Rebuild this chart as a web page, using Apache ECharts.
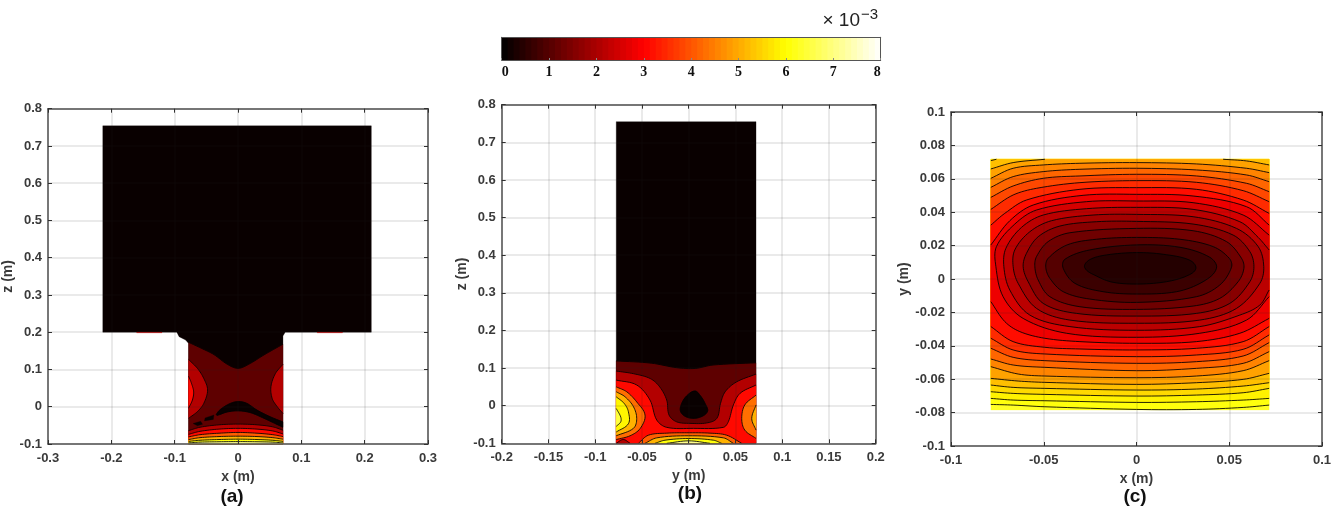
<!DOCTYPE html>
<html><head><meta charset="utf-8">
<style>html,body{margin:0;padding:0;background:#fff}#chart{width:1340px;height:521px;filter:blur(0.35px)}</style>
<script src="https://cdn.jsdelivr.net/npm/echarts@6/dist/echarts.min.js"></script>
</head><body><div id="chart"></div>
<script>
// ---------- tick labels ----------
const aXTicks=['-0.3','-0.2','-0.1','0','0.1','0.2','0.3'];
const zTicks=['-0.1','0','0.1','0.2','0.3','0.4','0.5','0.6','0.7','0.8'];
const bXTicks=['-0.2','-0.15','-0.1','-0.05','0','0.05','0.1','0.15','0.2'];
const cXTicks=['-0.1','-0.05','0','0.05','0.1'];
const cYTicks=['-0.1','-0.08','-0.06','-0.04','-0.02','0','0.02','0.04','0.06','0.08','0.1'];
const barTicks=['0','1','2','3','4','5','6','7','8'];
// colour bar cell centres (x 1e-3)
const barLevels=[0.0625,0.1875,0.3125,0.4375,0.5625,0.6875,0.8125,0.9375,1.0625,1.1875,1.3125,1.4375,1.5625,1.6875,1.8125,1.9375,2.0625,2.1875,2.3125,2.4375,2.5625,2.6875,2.8125,2.9375,3.0625,3.1875,3.3125,3.4375,3.5625,3.6875,3.8125,3.9375,4.0625,4.1875,4.3125,4.4375,4.5625,4.6875,4.8125,4.9375,5.0625,5.1875,5.3125,5.4375,5.5625,5.6875,5.8125,5.9375,6.0625,6.1875,6.3125,6.4375,6.5625,6.6875,6.8125,6.9375,7.0625,7.1875,7.3125,7.4375,7.5625,7.6875,7.8125,7.9375];

// ---------- panel (a): x-z plane ----------
const aBlock=[[-0.2135,0.754],[0.2105,0.754],[0.2105,0.2],[0.0745,0.2],[0.071,0.19],[0.071,-0.1],[-0.078,-0.1],[-0.078,0.17],[-0.0827,0.179],[-0.093,0.188],[-0.0966,0.2],[-0.2135,0.2]];
const aSlivL=[[-0.16,0.2],[-0.12,0.2],[-0.12,0.1985],[-0.16,0.1985]];
const aSlivR=[[0.125,0.2],[0.165,0.2],[0.165,0.1985],[0.125,0.1985]];
const aBand1=[[-0.078,0.173],[-0.058,0.157],[-0.038,0.14],[-0.017,0.114],[0,0.103],[0.017,0.114],[0.041,0.139],[0.071,0.168],[0.071,-0.1],[-0.078,-0.1]];
const aLobeL2=[[-0.078,0.127],[-0.064,0.103],[-0.054,0.076],[-0.048,0.045],[-0.054,0.009],[-0.064,-0.013],[-0.078,-0.031]];
const aLobeR2=[[0.071,0.114],[0.059,0.089],[0.052,0.054],[0.054,0.022],[0.062,0],[0.071,-0.018]];
const aLobeL3=[[-0.078,0.082],[-0.0735,0.063],[-0.07,0.04],[-0.072,0.018],[-0.078,-0.004]];
const aBlob=[[-0.034,-0.02],[-0.0276,-0.007],[-0.012,0.009],[0.001,0.014],[0.014,0.009],[0.03,-0.009],[0.051,-0.027],[0.071,-0.041],[0.071,-0.055],[0.056,-0.043],[0.041,-0.031],[0.02,-0.016],[0.001,-0.011],[-0.017,-0.014],[-0.033,-0.023]];
const aSpeck1=[[-0.052,-0.03],[-0.038,-0.022],[-0.039,-0.034],[-0.053,-0.038]];
const aSpeck2=[[-0.071,-0.045],[-0.059,-0.039],[-0.056,-0.047],[-0.064,-0.051]];
const aArc1=[[-0.078,-0.064],[-0.06,-0.055],[-0.03,-0.0485],[0,-0.0465],[0.03,-0.0485],[0.055,-0.054],[0.071,-0.063],[0.071,-0.1],[-0.078,-0.1]];
const aArc2=[[-0.078,-0.074],[-0.06,-0.066],[-0.03,-0.06],[0,-0.058],[0.03,-0.06],[0.055,-0.065],[0.071,-0.073],[0.071,-0.1],[-0.078,-0.1]];
const aArc3=[[-0.078,-0.081],[-0.06,-0.075],[-0.03,-0.071],[0,-0.069],[0.03,-0.071],[0.055,-0.075],[0.071,-0.08],[0.071,-0.1],[-0.078,-0.1]];
const aArc4=[[-0.078,-0.088],[-0.06,-0.083],[-0.03,-0.08],[0,-0.079],[0.03,-0.08],[0.055,-0.083],[0.071,-0.087],[0.071,-0.1],[-0.078,-0.1]];
const aArc5=[[-0.078,-0.093],[-0.06,-0.09],[-0.03,-0.088],[0,-0.087],[0.03,-0.088],[0.055,-0.09],[0.071,-0.093],[0.071,-0.1],[-0.078,-0.1]];
const aArc6=[[-0.078,-0.097],[-0.06,-0.095],[-0.03,-0.094],[0,-0.0935],[0.03,-0.094],[0.055,-0.095],[0.071,-0.097],[0.071,-0.1],[-0.078,-0.1]];
// [contour, level x1e-3, outlined]
const aLayers=[[aBlock,0.1,0],[aSlivL,2.3,0],[aSlivR,2.3,0],[aBand1,1.1,1],[aLobeL2,2.1,1],[aLobeR2,2.1,1],[aLobeL3,3.1,1],[aBlob,0.1,1],[aSpeck1,0.1,0],[aSpeck2,0.1,0],[aArc1,2.1,1],[aArc2,3.1,1],[aArc3,4.1,1],[aArc4,5.1,1],[aArc5,6.1,1],[aArc6,7.1,1]];
const aEdgesX=[-0.078,0.071], aEdgesY=[-0.1];

// ---------- panel (b): y-z plane ----------
const bBlock=[[-0.0775,0.755],[0.072,0.755],[0.072,-0.1],[-0.0775,-0.1]];
const bBand1=[[-0.0775,0.119],[-0.04,0.113],[-0.013,0.101],[0.007,0.099],[0.026,0.108],[0.072,0.114],[0.072,-0.1],[-0.0775,-0.1]];
const bBand2=[[-0.0775,0.092],[-0.059,0.085],[-0.041,0.072],[-0.031,0.05],[-0.0235,0.015],[-0.021,-0.025],[-0.0128,-0.043],[0.0014,-0.047],[0.019,-0.046],[0.03,-0.034],[0.034,0.006],[0.039,0.037],[0.051,0.063],[0.072,0.084],[0.072,-0.1],[-0.0775,-0.1]];
const bBand3=[[-0.0775,0.068],[-0.0556,0.055],[-0.0414,0.015],[-0.0342,-0.038],[-0.0235,-0.0576],[0.005,-0.0603],[0.037,-0.0576],[0.0424,-0.0426],[0.0478,0.002],[0.055,0.033],[0.072,0.055],[0.072,-0.1],[-0.0775,-0.1]];
const bBlob=[[0.0068,0.039],[-0.0014,0.028],[-0.0075,0.006],[-0.0086,-0.016],[-0.0014,-0.031],[0.0103,-0.032],[0.02,-0.016],[0.0175,0.006],[0.012,0.028]];
const bLeftA=[[-0.0775,0.05],[-0.0663,0.037],[-0.0556,0.01],[-0.0467,-0.025],[-0.052,-0.061],[-0.0627,-0.08],[-0.0775,-0.09]];
const bLeftB=[[-0.0775,0.037],[-0.068,0.0235],[-0.059,-0.003],[-0.0556,-0.034],[-0.059,-0.06],[-0.0775,-0.08]];
const bLeftC=[[-0.0775,0.0235],[-0.069,0.006],[-0.0645,-0.016],[-0.0645,-0.048],[-0.0775,-0.07]];
const bLeftD=[[-0.0775,-0.0075],[-0.0727,-0.03],[-0.0727,-0.043],[-0.0775,-0.055]];
const bRightB=[[0.072,0.028],[0.06,0.002],[0.0567,-0.034],[0.06,-0.065],[0.072,-0.087]];
const bRightC=[[0.072,0.002],[0.0674,-0.034],[0.072,-0.065]];
const bPatch=[[-0.0775,-0.1],[-0.07,-0.09],[-0.0627,-0.1]];
const bArc1=[[-0.0538,-0.1],[-0.0431,-0.0784],[-0.0235,-0.073],[-0.002,-0.072],[0.0228,-0.073],[0.0406,-0.0784],[0.0567,-0.1]];
const bArc2=[[-0.0467,-0.1],[-0.0342,-0.0855],[-0.0004,-0.08],[0.0371,-0.0855],[0.0478,-0.1]];
const bArc3=[[-0.036,-0.1],[-0.0253,-0.0917],[0,-0.0873],[0.0264,-0.0917],[0.0353,-0.1]];
const bArc4=[[-0.0235,-0.1],[0,-0.0935],[0.0228,-0.1]];
const bLayers=[[bBlock,0.1,0],[bBand1,1.1,1],[bBand2,2.1,1],[bBand3,3.1,1],[bBlob,0.1,1],[bLeftA,4.3,1],[bLeftB,5.1,1],[bLeftC,5.9,1],[bLeftD,6.5,1],[bRightB,4.3,1],[bRightC,5.1,1],[bPatch,2.1,1],[bArc1,4.1,1],[bArc2,5.1,1],[bArc3,6.1,1],[bArc4,7.1,1]];
const bEdgesX=[-0.0775,0.072], bEdgesY=[-0.1];

// ---------- panel (c): x-y plane ----------
const cRect=[[-0.0785,0.0717],[0.0715,0.0717],[0.0715,-0.0784],[-0.0785,-0.0784]];
const cC1=[[-0.0279,0.0068],[-0.0255,0.0114],[-0.0162,0.0144],[0,0.0158],[0.0144,0.0148],[0.0284,0.0114],[0.032,0.0064],[0.027,0.0018],[0.0162,-0.0016],[0.0018,-0.003],[-0.0126,-0.002],[-0.0216,0.0018]];
const cC2=[[-0.0395,0.0064],[-0.0386,0.0118],[-0.0252,0.0174],[0,0.0204],[0.0234,0.019],[0.0395,0.013],[0.0431,0.0064],[0.0359,-0.0016],[0.0216,-0.0076],[0,-0.009],[-0.018,-0.0076],[-0.0332,-0.0026]];
const cC3=[[-0.0489,0.007],[-0.0476,0.0124],[-0.0374,0.0204],[-0.0216,0.0238],[0,0.0249],[0.0234,0.0238],[0.0413,0.0194],[0.05,0.0124],[0.0512,0.007],[0.0449,-0.0036],[0.0323,-0.0106],[0,-0.014],[-0.0252,-0.012],[-0.0395,-0.0076],[-0.0467,0.0004]];
const cC4=[[-0.0548,0.0074],[-0.0539,0.0134],[-0.0476,0.0224],[-0.0359,0.0277],[0,0.0303],[0.0305,0.0289],[0.0485,0.0224],[0.0566,0.0124],[0.0579,0.0064],[0.0548,-0.0016],[0.0449,-0.0116],[0.0305,-0.0162],[0,-0.0182],[-0.0305,-0.0166],[-0.0467,-0.0106],[-0.053,-0.0006]];
const cC5=[[-0.0611,0.0074],[-0.0593,0.0154],[-0.053,0.0253],[-0.0413,0.0317],[-0.0216,0.0343],[0,0.0345],[0.0305,0.0329],[0.0521,0.0263],[0.0611,0.0164],[0.0633,0.0074],[0.0611,-0.0016],[0.0503,-0.0146],[0.0323,-0.0206],[0,-0.0222],[-0.0323,-0.0206],[-0.0503,-0.0146],[-0.0584,-0.0016]];
const cC6=[[-0.0665,0.0074],[-0.0656,0.0174],[-0.0575,0.0283],[-0.0458,0.0349],[-0.0234,0.0383],[0,0.0387],[0.0305,0.0373],[0.0539,0.0303],[0.0656,0.0194],[0.0686,0.0074],[0.0665,-0.0026],[0.0539,-0.0176],[0.0341,-0.0246],[0,-0.0265],[-0.0359,-0.0246],[-0.0539,-0.0176],[-0.0638,-0.0026]];
const cC7=[[-0.0715,0.0074],[-0.0704,0.0184],[-0.062,0.0309],[-0.0503,0.0383],[-0.027,0.0421],[0,0.0429],[0.0305,0.0417],[0.0557,0.0343],[0.0656,0.0249],[0.0715,0.0174],[0.0715,-0.0066],[0.0665,-0.0156],[0.0557,-0.0216],[0.0341,-0.0285],[0,-0.0307],[-0.0359,-0.0285],[-0.0575,-0.0216],[-0.0683,-0.0066]];
const cC8=[[-0.0758,0.0074],[-0.0755,0.0194],[-0.0656,0.0329],[-0.0539,0.0413],[-0.027,0.0463],[0,0.0467],[0.0305,0.0457],[0.0575,0.0383],[0.0715,0.0263],[0.0715,-0.0106],[0.0593,-0.0246],[0.0341,-0.0325],[0,-0.0349],[-0.0377,-0.0325],[-0.0611,-0.0236],[-0.0719,-0.0106]];
const cC9=[[-0.0785,0.0204],[-0.0683,0.0349],[-0.0557,0.0443],[-0.0288,0.0501],[0,0.0507],[0.0305,0.0497],[0.0593,0.0433],[0.0715,0.0323],[0.0715,-0.0236],[0.0557,-0.0325],[0.0323,-0.0375],[0,-0.0385],[-0.0305,-0.0375],[-0.0494,-0.0355],[-0.0629,-0.0315],[-0.071,-0.0255],[-0.0785,-0.0136]];
const cC10=[[-0.0785,0.0323],[-0.071,0.0393],[-0.0593,0.0473],[-0.0305,0.0537],[0,0.0547],[0.0323,0.0537],[0.0575,0.0473],[0.0715,0.0393],[0.0715,-0.0285],[0.0575,-0.0375],[0.0323,-0.0415],[0,-0.0425],[-0.0305,-0.0419],[-0.0494,-0.0409],[-0.0665,-0.0375],[-0.0785,-0.0285]];
const cC11=[[-0.0785,0.0417],[-0.0665,0.0503],[-0.0539,0.0543],[-0.0305,0.0577],[0,0.0589],[0.0323,0.0579],[0.0575,0.0529],[0.0715,0.0463],[0.0715,-0.0335],[0.0575,-0.0421],[0.0323,-0.0455],[0,-0.0465],[-0.0494,-0.0449],[-0.0665,-0.0425],[-0.0785,-0.0355]];
const cC12=[[-0.0785,0.0489],[-0.0665,0.0557],[-0.0503,0.0603],[-0.0305,0.0617],[0,0.0627],[0.0323,0.0617],[0.0593,0.0573],[0.0715,0.0523],[0.0715,-0.0381],[0.0575,-0.0461],[0.0323,-0.0495],[0,-0.0505],[-0.0494,-0.0489],[-0.0665,-0.0469],[-0.0785,-0.0415]];
const cC13=[[-0.0785,0.0549],[-0.0665,0.0613],[-0.0503,0.0643],[-0.0305,0.0657],[0,0.0663],[0.0323,0.0653],[0.0593,0.0623],[0.0715,0.0583],[0.0715,-0.0435],[0.0575,-0.0505],[0.0323,-0.0535],[0,-0.0549],[-0.0494,-0.0529],[-0.0665,-0.0515],[-0.0785,-0.0479]];
const cC14=[[-0.0785,0.0603],[-0.0665,0.0663],[-0.0503,0.0683],[-0.0305,0.0693],[0,0.0697],[0.0323,0.0689],[0.0593,0.0663],[0.0715,0.0637],[0.0715,-0.0489],[0.0575,-0.0549],[0.0323,-0.0581],[0,-0.0591],[-0.0494,-0.0581],[-0.0638,-0.0569],[-0.0785,-0.0525]];
const cC15=[[-0.0785,0.0659],[-0.0665,0.0697],[-0.0494,0.0717],[0.0467,0.0717],[0.0593,0.0707],[0.0715,0.0683],[0.0715,-0.0565],[0.0575,-0.0601],[0.0323,-0.0621],[0,-0.0631],[-0.0494,-0.0619],[-0.0638,-0.0611],[-0.0785,-0.0595]];
const cC16=[[-0.0785,0.0709],[-0.0755,0.0717],[0.0715,0.0717],[0.0715,-0.0621],[0.0575,-0.0641],[0.0323,-0.0659],[0,-0.0665],[-0.0494,-0.0655],[-0.0665,-0.0649],[-0.0785,-0.0635]];
const cC17=[[-0.0785,0.0717],[0.0715,0.0717],[0.0715,-0.0655],[0.0575,-0.0681],[0.0323,-0.0695],[0,-0.0701],[-0.0494,-0.0691],[-0.0665,-0.0685],[-0.0785,-0.0675]];
const cC18=[[-0.0785,0.0717],[0.0715,0.0717],[0.0715,-0.0715],[0.0575,-0.0725],[0.0323,-0.0735],[0,-0.0739],[-0.0494,-0.0729],[-0.0665,-0.0725],[-0.0785,-0.0715]];
const cC19=[[-0.0785,0.0717],[0.0715,0.0717],[0.0715,-0.0755],[0.0575,-0.0769],[0.0323,-0.0781],[0,-0.0781],[-0.0494,-0.0765],[-0.0665,-0.0755],[-0.0785,-0.0751]];
const cLayers=[[cRect,6.3,0],[cC19,6.1,1],[cC18,5.85,1],[cC17,5.55,1],[cC16,5.25,1],[cC15,4.9,1],[cC14,4.55,1],[cC13,4.2,1],[cC12,3.85,1],[cC11,3.5,1],[cC10,3.15,1],[cC9,2.8,1],[cC8,2.5,1],[cC7,2.2,1],[cC6,1.9,1],[cC5,1.6,1],[cC4,1.3,1],[cC3,1.0,1],[cC2,0.7,1],[cC1,0.42,1]];
const cEdgesX=[-0.0785,0.0715], cEdgesY=[0.0717,-0.0784];

// ---------- rendering ----------
function hot(v){
  const c=t=>Math.round(255*Math.max(0,Math.min(1,t)));
  return 'rgb('+c(v/3)+','+c((v-3)/3)+','+c((v-6)/2)+')';
}
const near=(a,list)=>list.some(e=>Math.abs(a-e)<1e-6);
// rounded pen path through the read contour vertices, on screen
function curve(pts,closed){
  const n=pts.length;
  if(n<3)return pts.slice();
  const get=i=>closed?pts[(i+n)%n]:pts[Math.max(0,Math.min(n-1,i))];
  const dir=i=>{const a=get(i-1),b=get(i+1),dx=b[0]-a[0],dy=b[1]-a[1],l=Math.hypot(dx,dy)||1;return [dx/l,dy/l];};
  const out=[];
  const segs=closed?n:n-1;
  for(let i=0;i<segs;i++){
    const p0=get(i),p1=get(i+1),L=Math.hypot(p1[0]-p0[0],p1[1]-p0[1]);
    const d0=dir(i),d1=dir(i+1);
    for(let k=0;k<8;k++){
      const t=k/8,t2=t*t,t3=t2*t;
      const h00=2*t3-3*t2+1,h10=t3-2*t2+t,h01=-2*t3+3*t2,h11=t3-t2;
      out.push([h00*p0[0]+h10*L*d0[0]+h01*p1[0]+h11*L*d1[0],h00*p0[1]+h10*L*d0[1]+h01*p1[1]+h11*L*d1[1]]);
    }
  }
  if(!closed)out.push(pts[n-1]);
  return out;
}
function contourSeries(layers,edgesX,edgesY,idx){
  return {type:'custom',xAxisIndex:idx,yAxisIndex:idx,clip:false,animation:false,silent:true,z:2,
    data:layers.map(()=>[0,0]),
    renderItem(params,api){
      const layer=layers[params.dataIndex],pts=layer[0],n=pts.length;
      const px=pts.map(p=>api.coord(p));
      const base=params.dataIndex*2;
      const fill=hot(layer[1]);
      if(!layer[2]) return {type:'polygon',shape:{points:px},style:{fill,stroke:fill,lineWidth:0.3},z2:base};
      const isEdge=i=>{const a=pts[i],b=pts[(i+1)%n];return (a[0]===b[0]&&near(a[0],edgesX))||(a[1]===b[1]&&near(a[1],edgesY));};
      let first=-1;
      for(let i=0;i<n;i++) if(isEdge(i)){first=i;break;}
      const lines=[];let outline=[];
      if(first<0){
        const c=curve(px,true);
        outline=c;lines.push(c.concat([c[0]]));
      }else{
        let run=[];
        const flush=()=>{if(run.length>1){const c=curve(run,false);lines.push(c);outline=outline.concat(c);}else if(run.length===1){outline.push(run[0]);}run=[];};
        for(let s=1;s<=n;s++){
          const i=(first+s)%n;
          if(isEdge(i)){ if(!run.length)run.push(px[i]); flush(); continue; }
          if(!run.length)run.push(px[i]);
          run.push(px[(i+1)%n]);
        }
        flush();
      }
      const children=[{type:'polygon',shape:{points:outline},style:{fill,stroke:fill,lineWidth:0.3},z2:base}];
      lines.forEach(l=>children.push({type:'polyline',shape:{points:l},style:{fill:null,stroke:'rgba(0,0,0,0.85)',lineWidth:1},z2:base+1}));
      return {type:'group',children};
    }};
}
const INK='#3a3a3a';
const gridLine={show:true,lineStyle:{color:'rgba(30,30,30,0.13)',width:1.5}};
function axisPair(dim,gridIndex,min,max,interval,labels,name,nameGap){
  const main={type:'value',gridIndex,min,max,interval,z:5,
    position:dim==='x'?'bottom':'left',
    axisLine:{show:true,onZero:false,lineStyle:{color:'#505050',width:1.5}},
    axisTick:{show:true,inside:true,length:4,lineStyle:{color:'#303030',width:1}},
    axisLabel:{show:true,margin:dim==='x'?8:6,color:INK,fontFamily:'Liberation Sans',fontWeight:'bold',fontSize:13,hideOverlap:false,showMinLabel:true,showMaxLabel:true,
      formatter:(v,i)=>labels[i]},
    splitLine:gridLine,
    name,nameLocation:'middle',nameGap,
    nameTextStyle:{color:INK,fontFamily:'Liberation Sans',fontWeight:'bold',fontSize:14}};
  const mirror={type:'value',gridIndex,min,max,interval,z:5,
    position:dim==='x'?'top':'right',
    axisLine:{show:true,onZero:false,lineStyle:{color:'#505050',width:1.5}},
    axisTick:{show:true,inside:true,length:4,lineStyle:{color:'#303030',width:1}},
    axisLabel:{show:false},splitLine:{show:false}};
  return [main,mirror];
}
const xAxis=[
  axisPair('x',0,-0.3,0.3,0.1,aXTicks,'x (m)',23)[0],
  axisPair('x',1,-0.2,0.2,0.05,bXTicks,'y (m)',23)[0],
  axisPair('x',2,-0.1,0.1,0.05,cXTicks,'x (m)',24)[0],
  {type:'value',gridIndex:3,min:0,max:8,interval:1,z:5,position:'bottom',
    axisLine:{show:true,onZero:false,lineStyle:{color:'#555',width:1}},
    axisTick:{show:true,inside:true,length:2,lineStyle:{color:'#888',width:1}},
    splitLine:{show:false},
    axisLabel:{show:true,margin:5,color:'#111',fontFamily:'Liberation Serif',fontWeight:'bold',fontSize:14,alignMinLabel:'left',alignMaxLabel:'right',showMinLabel:true,showMaxLabel:true,formatter:(v,i)=>barTicks[i]}},
  axisPair('x',0,-0.3,0.3,0.1,aXTicks)[1],
  axisPair('x',1,-0.2,0.2,0.05,bXTicks)[1],
  axisPair('x',2,-0.1,0.1,0.05,cXTicks)[1],
  {type:'value',gridIndex:3,min:0,max:8,position:'top',z:5,axisLine:{show:true,onZero:false,lineStyle:{color:'#555',width:1}},axisTick:{show:false},axisLabel:{show:false},splitLine:{show:false}}
];
const yAxis=[
  axisPair('y',0,-0.1,0.8,0.1,zTicks,'z (m)',33)[0],
  axisPair('y',1,-0.1,0.8,0.1,zTicks,'z (m)',33)[0],
  axisPair('y',2,-0.1,0.1,0.02,cYTicks,'y (m)',40)[0],
  {type:'value',gridIndex:3,min:0,max:1,position:'left',z:5,axisLine:{show:true,onZero:false,lineStyle:{color:'#555',width:1}},axisTick:{show:false},axisLabel:{show:false},splitLine:{show:false}},
  axisPair('y',0,-0.1,0.8,0.1,zTicks)[1],
  axisPair('y',1,-0.1,0.8,0.1,zTicks)[1],
  axisPair('y',2,-0.1,0.1,0.02,cYTicks)[1],
  {type:'value',gridIndex:3,min:0,max:1,position:'right',z:5,axisLine:{show:true,onZero:false,lineStyle:{color:'#555',width:1}},axisTick:{show:false},axisLabel:{show:false},splitLine:{show:false}}
];
const barSeries={type:'custom',xAxisIndex:3,yAxisIndex:3,animation:false,silent:true,z:2,
  data:barLevels.map(v=>[v,0.5]),
  renderItem(params,api){
    const v=api.value(0),a=api.coord([v-0.0625,0]),b=api.coord([v+0.0625,1]);
    return {type:'rect',shape:{x:a[0],y:b[1],width:b[0]-a[0]+1,height:a[1]-b[1]},style:{fill:hot(v)}};
  }};
const option={
  backgroundColor:'#fff',animation:false,
  grid:[
    {left:47,top:108.7,width:381,height:335.3},
    {left:501.7,top:104.7,width:374,height:338.6},
    {left:951,top:112,width:371,height:334},
    {left:501.7,top:37.3,width:379,height:22.7}
  ],
  xAxis,yAxis,
  series:[
    contourSeries(aLayers,aEdgesX,aEdgesY,0),
    contourSeries(bLayers,bEdgesX,bEdgesY,1),
    contourSeries(cLayers,cEdgesX,cEdgesY,2),
    barSeries
  ],
  graphic:[
    {type:'text',x:232,y:497,style:{text:'(a)',align:'center',verticalAlign:'middle',fill:'#111',font:'bold 19px "Liberation Sans"'}},
    {type:'text',x:690,y:494,style:{text:'(b)',align:'center',verticalAlign:'middle',fill:'#111',font:'bold 19px "Liberation Sans"'}},
    {type:'text',x:1135,y:497,style:{text:'(c)',align:'center',verticalAlign:'middle',fill:'#111',font:'bold 19px "Liberation Sans"'}},
    {type:'text',x:860,y:21,style:{text:'× 10',align:'right',verticalAlign:'middle',fill:'#222',font:'19px "Liberation Sans"'}},
    {type:'text',x:861,y:15,style:{text:'−3',align:'left',verticalAlign:'middle',fill:'#222',font:'15px "Liberation Sans"'}}
  ]
};
const chart=echarts.init(document.getElementById('chart'),null,{renderer:'canvas'});
chart.setOption(option);
</script></body></html>
